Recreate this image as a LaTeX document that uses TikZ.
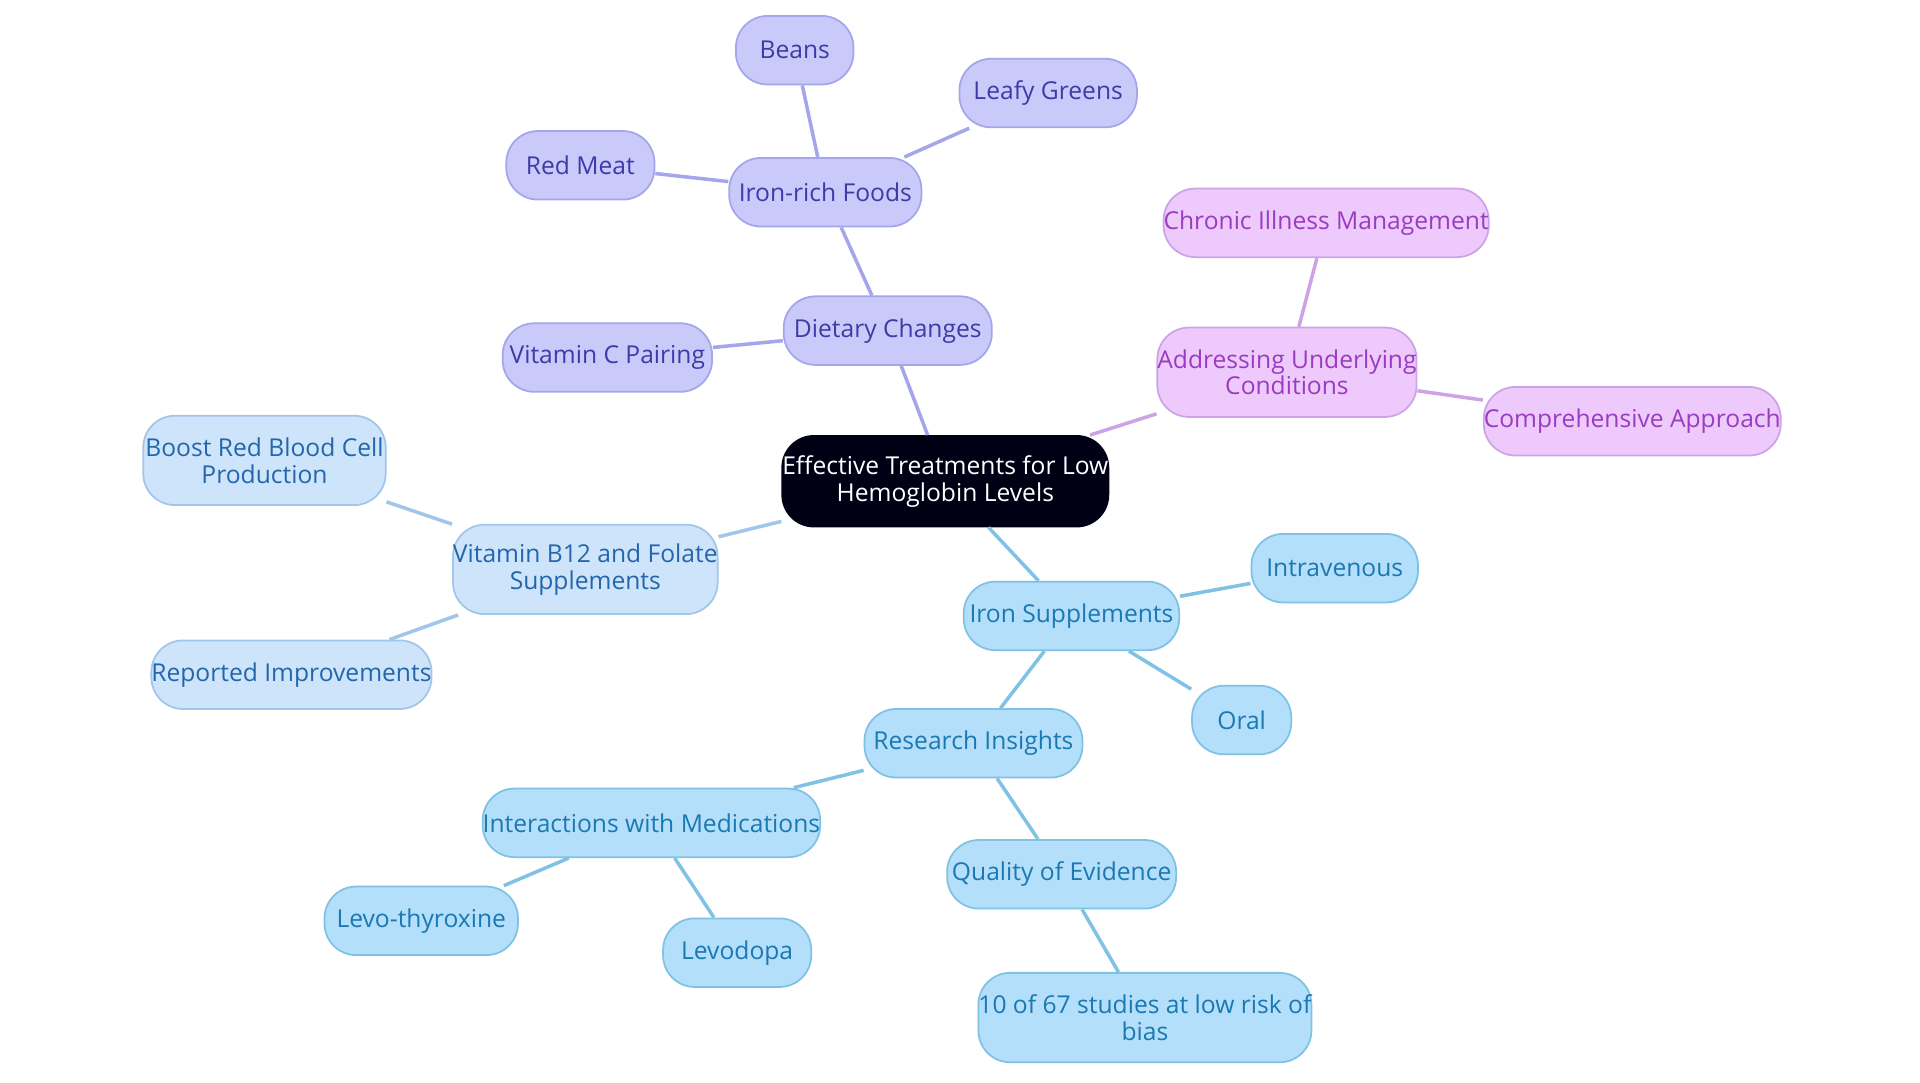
\documentclass[tikz,border=0pt]{standalone}
\usepackage{fontspec}
\setmainfont{Open Sans}
\usetikzlibrary{positioning}
\definecolor{violetfill}{HTML}{C9C9FA}
\definecolor{violetline}{HTML}{A5A5EC}
\definecolor{violettext}{HTML}{3C3CA8}
\definecolor{pinkfill}{HTML}{EDCAFB}
\definecolor{pinkline}{HTML}{CDA3E6}
\definecolor{pinktext}{HTML}{9A3CC2}
\definecolor{skyfill}{HTML}{CDE4FB}
\definecolor{skyline}{HTML}{A2C6EA}
\definecolor{skytext}{HTML}{2466AC}
\definecolor{bluefill}{HTML}{B4DFFB}
\definecolor{blueline}{HTML}{80C2E4}
\definecolor{bluetext}{HTML}{1A78B2}
\tikzset{
  box/.style={rounded corners=9pt, align=center, inner sep=0pt, line width=0.5pt,
    font=\fontsize{7}{7.6}\selectfont},
  violet/.style={box, fill=violetfill, draw=violetline, text=violettext},
  pink/.style={box, fill=pinkfill, draw=pinkline, text=pinktext},
  sky/.style={box, fill=skyfill, draw=skyline, text=skytext},
  blue/.style={box, fill=bluefill, draw=blueline, text=bluetext},
  root/.style={box, fill=black!92!blue, draw=black!92!blue, text=white},
}
\begin{document}
\begin{tikzpicture}[x=0.012245cm, y=-0.012245cm]

  \useasboundingbox (0,0) rectangle (1568,884);

  % centre
  \node[root, minimum width=256*0.012245cm, minimum height=74*0.012245cm] (root) at (772,393) {Effective Treatments for Low\\Hemoglobin Levels};

  % dietary branch
  \node[violet, minimum width=170*0.012245cm, minimum height=56*0.012245cm] (diet) at (725,270) {Dietary Changes};
  \node[violet, minimum width=157*0.012245cm, minimum height=56*0.012245cm] (iron) at (674,157) {Iron-rich Foods};
  \node[violet, minimum width=96*0.012245cm, minimum height=56*0.012245cm] (beans) at (649,41) {Beans};
  \node[violet, minimum width=145*0.012245cm, minimum height=56*0.012245cm] (leafy) at (856,76) {Leafy Greens};
  \node[violet, minimum width=121*0.012245cm, minimum height=56*0.012245cm] (meat) at (474,135) {Red Meat};
  \node[violet, minimum width=171*0.012245cm, minimum height=56*0.012245cm] (vitc) at (496,292) {Vitamin C Pairing};

  % underlying conditions
  \node[pink, minimum width=209*0.012245cm, minimum height=73*0.012245cm] (cond) at (1051,304) {Addressing Underlying\\Conditions};
  \node[pink, minimum width=253*0.012245cm, minimum height=56*0.012245cm] (chronic) at (1083,182) {Chronic Illness Management};
  \node[pink, minimum width=234*0.012245cm, minimum height=56*0.012245cm] (compr) at (1333,344) {Comprehensive Approach};

  % b12 and folate
  \node[sky, minimum width=210*0.012245cm, minimum height=73*0.012245cm] (bfol) at (478,465) {Vitamin B12 and Folate\\Supplements};
  \node[sky, minimum width=198*0.012245cm, minimum height=73*0.012245cm] (boost) at (216,376) {Boost Red Blood Cell\\Production};
  \node[sky, minimum width=223*0.012245cm, minimum height=56*0.012245cm] (report) at (238,551) {Reported Improvements};

  % iron supplements
  \node[blue, minimum width=176*0.012245cm, minimum height=56*0.012245cm] (supp) at (875,503) {Iron Supplements};
  \node[blue, minimum width=136*0.012245cm, minimum height=56*0.012245cm] (iv) at (1090,464) {Intravenous};
  \node[blue, minimum width=81*0.012245cm, minimum height=56*0.012245cm] (oral) at (1014,588) {Oral};
  \node[blue, minimum width=178*0.012245cm, minimum height=56*0.012245cm] (research) at (795,607) {Research Insights};
  \node[blue, minimum width=263*0.012245cm, minimum height=56*0.012245cm] (inter) at (532,672) {Interactions with Medications};
  \node[blue, minimum width=158*0.012245cm, minimum height=56*0.012245cm] (levot) at (344,752) {Levo-thyroxine};
  \node[blue, minimum width=121*0.012245cm, minimum height=56*0.012245cm] (levod) at (602,778) {Levodopa};
  \node[blue, minimum width=187*0.012245cm, minimum height=56*0.012245cm] (qual) at (867,714) {Quality of Evidence};
  \node[blue, minimum width=253*0.012245cm, minimum height=73*0.012245cm] (studies) at (935,831) {10 of 67 studies at low risk of\\bias};

  % links
  \begin{scope}[on background layer/.style={}, line width=1pt]
    \draw[violetline] (root) -- (diet);
    \draw[violetline] (diet) -- (iron);
    \draw[violetline] (diet) -- (vitc);
    \draw[violetline] (iron) -- (beans);
    \draw[violetline] (iron) -- (leafy);
    \draw[violetline] (iron) -- (meat);
    \draw[pinkline] (root) -- (cond);
    \draw[pinkline] (cond) -- (chronic);
    \draw[pinkline] (cond) -- (compr);
    \draw[skyline] (root) -- (bfol);
    \draw[skyline] (bfol) -- (boost);
    \draw[skyline] (bfol) -- (report);
    \draw[blueline] (root) -- (supp);
    \draw[blueline] (supp) -- (iv);
    \draw[blueline] (supp) -- (oral);
    \draw[blueline] (supp) -- (research);
    \draw[blueline] (research) -- (inter);
    \draw[blueline] (research) -- (qual);
    \draw[blueline] (inter) -- (levot);
    \draw[blueline] (inter) -- (levod);
    \draw[blueline] (qual) -- (studies);
  \end{scope}

\end{tikzpicture}
\end{document}
